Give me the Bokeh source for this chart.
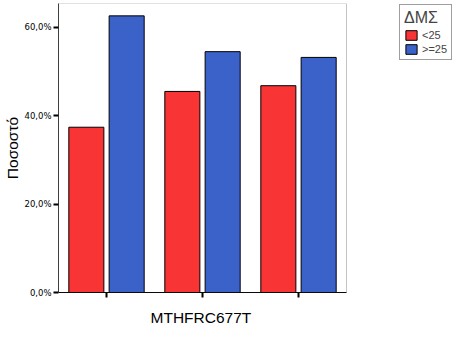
from bokeh.plotting import figure
from bokeh.models import Range1d, FixedTicker, Legend, LegendItem, ColumnDataSource, BoxAnnotation, Title
from bokeh.transform import dodge
from bokeh.embed import file_html
from bokeh.resources import INLINE

categories = ["CC", "CT", "TT"]
lt25 = [37.4, 45.5, 46.8]
ge25 = [62.6, 54.5, 53.2]
series_names = ["<25", ">=25"]
y_ticks = [0, 20, 40, 60]
y_tick_labels = ["0,0%", "20,0%", "40,0%", "60,0%"]

n = len(categories)
slot = [i + 0.5 for i in range(n)]  # category slot centres, one unit per category
src = ColumnDataSource(dict(cat=categories, slot=slot, a=lt25, b=ge25))

W, H = 461, 339
left, top, bottom = 58, 3, 47
plot_w = 288  # width of the bar area in px
frame_w = W - left
y_max = 65.4

p = figure(width=W, height=H, output_backend="svg", toolbar_location=None,
           x_range=Range1d(0, n * frame_w / plot_w),
           y_range=Range1d(0, y_max),
           min_border_left=left, min_border_right=0, min_border_top=top, min_border_bottom=bottom)
p.background_fill_color = "white"
p.border_fill_color = "white"
p.outline_line_color = None
p.grid.visible = False

frame_box = BoxAnnotation(left=0, right=n, bottom=0, top=y_max, fill_color=None,
                          line_color="#404040", line_width=1)
p.add_layout(frame_box)

r1 = p.vbar(x=dodge("slot", -0.21), top="a", width=0.365, source=src,
            fill_color="#f83434", line_color="black", line_width=1)
r2 = p.vbar(x=dodge("slot", 0.21), top="b", width=0.365, source=src,
            fill_color="#3a62c8", line_color="black", line_width=1)

font = "Liberation Sans"
ya = p.yaxis[0]
ya.ticker = FixedTicker(ticks=y_ticks)
ya.major_label_overrides = {t: l for t, l in zip(y_ticks, y_tick_labels)}
ya.major_label_text_font = "DejaVu Sans"
ya.major_label_text_font_size = "8.5px"
ya.major_label_text_color = "black"
ya.major_label_standoff = 2
ya.major_tick_out = 5
ya.major_tick_in = 0
ya.major_tick_line_width = 2
ya.major_tick_line_color = "black"
ya.minor_tick_line_color = None
ya.axis_line_color = "#404040"
ya.axis_label = "Ποσοστό"
ya.axis_label_text_font = font
ya.axis_label_text_font_size = "15.5px"
ya.axis_label_text_font_style = "normal"
ya.axis_label_text_color = "black"
ya.axis_label_standoff = 0

xa = p.xaxis[0]
xa.ticker = FixedTicker(ticks=[], minor_ticks=slot)
xa.bounds = (0, n)
xa.minor_tick_out = 5
xa.minor_tick_in = 0
xa.minor_tick_line_width = 2
xa.minor_tick_line_color = "black"
xa.major_tick_line_color = None
xa.axis_line_color = "black"

xtitle = Title(text="MTHFRC677T", align="left", offset=92, vertical_align="top",
               text_font=font, text_font_size="15.5px", text_font_style="normal",
               text_color="black", standoff=22)
p.add_layout(xtitle, "below")

legend = Legend(items=[LegendItem(label=series_names[0], renderers=[r1]),
                       LegendItem(label=series_names[1], renderers=[r2])],
                location=(341, 232), title="ΔΜΣ")
legend.title_text_font = font
legend.title_text_font_size = "16px"
legend.title_text_font_style = "normal"
legend.title_standoff = 2
legend.label_text_font = font
legend.label_text_font_size = "11px"
legend.glyph_width = 14
legend.glyph_height = 12
legend.label_height = 12
legend.label_standoff = 4
legend.spacing = 2
legend.padding = 4
legend.margin = 0
legend.border_line_color = "#404040"
legend.border_line_width = 1
legend.background_fill_color = "white"
legend.background_fill_alpha = 1
p.add_layout(legend, "center")

open("out.html", "w").write(file_html(p, INLINE))
